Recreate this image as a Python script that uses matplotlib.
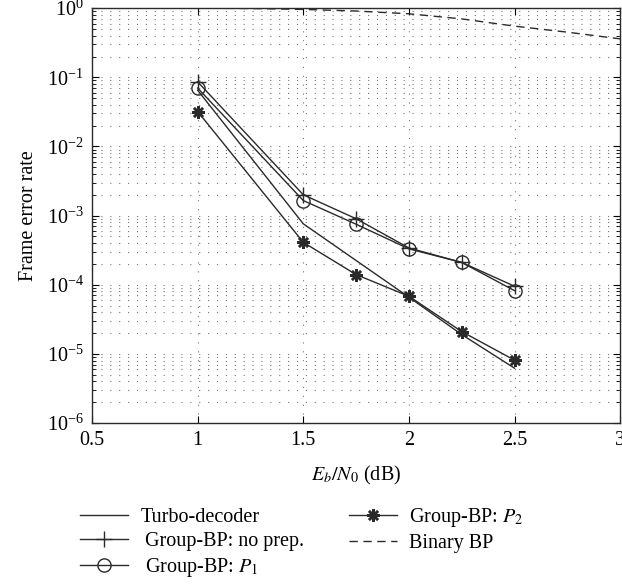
import numpy as np
import matplotlib
matplotlib.use("Agg")
import matplotlib.pyplot as plt
from matplotlib.ticker import LogLocator, NullFormatter

plt.rcParams["font.family"] = ["Liberation Serif", "DejaVu Serif"]
plt.rcParams["mathtext.fontset"] = "stix"

# values
ebn0 = [1.0, 1.5, 1.75, 2.0, 2.25, 2.5]
turbo_x = [1.0, 1.5, 2.0, 2.25, 2.5]
turbo = [6.5e-2, 7.6e-4, 6.6e-5, 1.9e-5, 6.2e-6]
no_prep = [8.6e-2, 2.0e-3, 9.0e-4, 3.4e-4, 2.1e-4, 9.5e-5]
p1 = [7.0e-2, 1.65e-3, 7.5e-4, 3.3e-4, 2.1e-4, 8.2e-5]
p2 = [3.2e-2, 4.1e-4, 1.4e-4, 6.8e-5, 2.1e-5, 8.1e-6]
binary_x = [1.0, 1.25, 1.5, 1.75, 2.0, 2.25, 2.5, 2.75, 3.0]
binary = [1.0, 0.99, 0.96, 0.91, 0.83, 0.70, 0.55, 0.45, 0.36]

col = "#2a2a2a"
fs = 14.5
fig = plt.figure(figsize=(6.22, 5.85), dpi=100)
ax = fig.add_axes([0.148, 0.277, 0.849, 0.709])

ax.plot(turbo_x, turbo, "-", color=col, lw=1.0, label="Turbo-decoder")
ax.plot(ebn0, no_prep, "-", color=col, lw=1.0, marker="+", ms=12, mew=1.0,
        label=" Group-BP: no prep.")
ax.plot(ebn0, p1, "-", color=col, lw=1.0, marker="o", ms=9.5, mfc="none", mew=1.0,
        label=" Group-BP: $P_1$")
ax.plot(ebn0, p2, "-", color=col, lw=1.0, marker=(8, 2, 0), ms=9, mew=1.8,
        label="Group-BP: $P_2$")
ax.plot(binary_x, binary, "--", color=col, lw=1.0, dashes=(6, 4), label="Binary BP")

ax.set_yscale("log")
ax.set_xlim(0.5, 3.0)
ax.set_ylim(1e-6, 1.0)
ax.set_xticks([0.5, 1, 1.5, 2, 2.5, 3])
ax.set_xticklabels(["0.5", "1", "1.5", "2", "2.5", "3"])
ax.yaxis.set_major_locator(LogLocator(base=10, numticks=10))
ax.yaxis.set_minor_locator(LogLocator(base=10, subs=np.arange(2, 10), numticks=10))
ax.yaxis.set_minor_formatter(NullFormatter())

grid_style = dict(color="#777777", lw=0.8, linestyle=(0, (1, 7)))
ax.grid(True, which="major", axis="both", **grid_style)
ax.grid(True, which="minor", axis="y", **grid_style)

ax.tick_params(which="both", direction="in", top=True, right=True, labelsize=fs)
ax.tick_params(which="major", length=5, pad=6)
ax.tick_params(which="minor", length=3)
for s in ax.spines.values():
    s.set_linewidth(1.0)
    s.set_color(col)

ax.set_xlabel("$E_b/N_0$ (dB)", fontsize=fs, labelpad=10)
ax.set_ylabel("Frame error rate", fontsize=fs, labelpad=6)

fig.legend(loc="upper left", bbox_to_anchor=(80 / 622, 1 - 506 / 585), ncol=2,
           frameon=False, fontsize=fs, handlelength=2.4, columnspacing=2.2,
           labelspacing=0.25, handletextpad=0.6, borderpad=0, borderaxespad=0)

fig.savefig("out.png", dpi=100)
